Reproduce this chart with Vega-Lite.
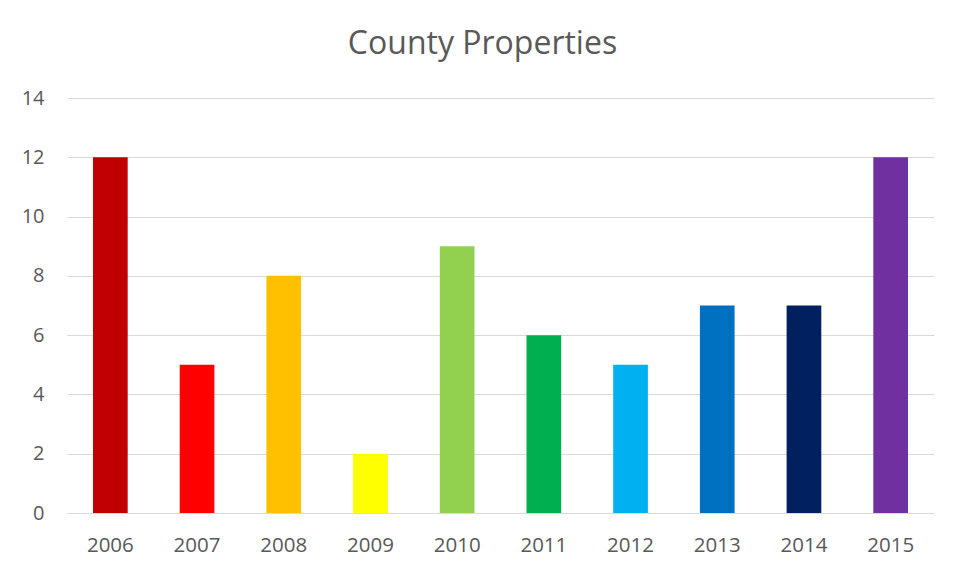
{
  "$schema": "https://vega.github.io/schema/vega-lite/v6.json",
  "width": 867,
  "height": 415,
  "autosize": {"type": "none"},
  "padding": {"left": 67, "top": 98, "right": 29, "bottom": 62},
  "background": "white",
  "title": {
    "text": "County Properties",
    "fontSize": 32,
    "font": "Open Sans",
    "fontWeight": "normal",
    "color": "#595959",
    "anchor": "middle",
    "dx": -18,
    "offset": 27
  },
  "data": {
    "values": [
      {"year": "2006", "value": 12, "color": "#C00000"},
      {"year": "2007", "value": 5, "color": "#FF0000"},
      {"year": "2008", "value": 8, "color": "#FFC000"},
      {"year": "2009", "value": 2, "color": "#FFFF00"},
      {"year": "2010", "value": 9, "color": "#92D050"},
      {"year": "2011", "value": 6, "color": "#00B050"},
      {"year": "2012", "value": 5, "color": "#00B0F0"},
      {"year": "2013", "value": 7, "color": "#0070C0"},
      {"year": "2014", "value": 7, "color": "#002060"},
      {"year": "2015", "value": 12, "color": "#7030A0"}
    ]
  },
  "mark": {"type": "bar"},
  "encoding": {
    "x": {
      "field": "year",
      "type": "nominal",
      "scale": {"paddingInner": 0.6, "paddingOuter": 0.3},
      "axis": {
        "title": null,
        "labelAngle": 0,
        "ticks": false,
        "domainColor": "#D9D9D9",
        "labelFont": "Open Sans",
        "labelFontSize": 20.5,
        "labelColor": "#595959",
        "labelPadding": 22
      }
    },
    "y": {
      "field": "value",
      "type": "quantitative",
      "scale": {"domain": [0, 14]},
      "axis": {
        "title": null,
        "values": [0, 2, 4, 6, 8, 10, 12, 14],
        "ticks": false,
        "domain": false,
        "gridColor": "#D9D9D9",
        "labelFont": "Open Sans",
        "labelFontSize": 20,
        "labelColor": "#595959",
        "labelPadding": 23,
        "labelAlign": "right"
      }
    },
    "color": {"field": "color", "type": "nominal", "scale": null, "legend": null}
  },
  "config": {"view": {"stroke": null}}
}
